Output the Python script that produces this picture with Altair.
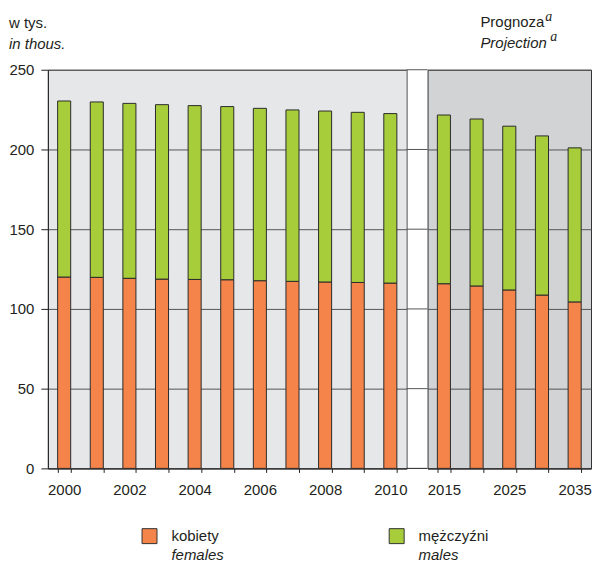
import altair as alt
import pandas as pd

FONT = "Liberation Sans"
TEXT = "#231f20"
ORANGE = "#f5844a"
GREEN = "#a7cd3a"

# historical data (thousands)
years_hist = ["2000", "2001", "2002", "2003", "2004", "2005", "2006", "2007", "2008", "2009", "2010"]
females_hist = [120.0, 119.8, 119.2, 118.7, 118.5, 118.3, 117.7, 117.3, 116.9, 116.6, 116.2]
males_hist = [110.4, 110.0, 109.7, 109.4, 109.0, 108.6, 108.1, 107.5, 107.2, 106.7, 106.3]

# projection
years_proj = ["2015", "2020", "2025", "2030", "2035"]
females_proj = [115.8, 114.4, 111.9, 108.7, 104.4]
males_proj = [105.8, 104.7, 102.7, 99.8, 96.6]

sex_keys = ["kobiety", "mężczyźni"]
sex_en = ["females", "males"]
grid_values = [0, 50, 100, 150, 200, 250]


def long_df(years, fem, mal):
    rows = []
    for y, f, m in zip(years, fem, mal):
        rows.append({"year": y, "sex": sex_keys[0], "value": f, "ord": 0})
        rows.append({"year": y, "sex": sex_keys[1], "value": m, "ord": 1})
    return pd.DataFrame(rows)


yscale = alt.Scale(domain=[0, 250], nice=False, zero=True)
color = alt.Color("sex:N", scale=alt.Scale(domain=sex_keys, range=[ORANGE, GREEN]), legend=None)


def xaxis(expr):
    return alt.Axis(title=None, labelExpr=expr, tickBand="extent", tickSize=4, labelPadding=10,
                    labelAngle=0, domainColor="#222", tickColor="#222", labelFont=FONT,
                    labelFontSize=15, labelColor=TEXT)


def bars(df, years, expr, show_y):
    if show_y:
        yaxis = alt.Axis(title=None, values=grid_values, grid=True, gridColor="#555", gridWidth=1,
                         tickSize=7, tickColor="#222", domainColor="#222", labelPadding=7,
                         labelFont=FONT, labelFontSize=15, labelColor=TEXT)
    else:
        yaxis = alt.Axis(title=None, values=grid_values, grid=True, gridColor="#555", gridWidth=1,
                         labels=False, ticks=False, domain=False)
    return alt.Chart(df).mark_bar(stroke="#2b2b2b", strokeWidth=1).encode(
        x=alt.X("year:N", sort=years, scale=alt.Scale(paddingInner=0.6, paddingOuter=0.3), axis=xaxis(expr)),
        y=alt.Y("value:Q", stack="zero", scale=yscale, axis=yaxis),
        color=color,
        order=alt.Order("ord:Q", sort="ascending"),
    )


title_style = dict(font=FONT, fontSize=15, fontWeight="normal", color=TEXT,
                   subtitleFont=FONT, subtitleFontSize=15, subtitleFontStyle="italic",
                   subtitleColor=TEXT, subtitlePadding=6)

# custom legend drawn below the left panel
leg_df = pd.DataFrame({"key": sex_keys, "en": sex_en})
lx = alt.X("key:N", scale=alt.Scale(type="point", domain=sex_keys, range=[102, 350], padding=0), axis=None)
squares = alt.Chart(leg_df).mark_square(size=225, opacity=1, stroke="#333", strokeWidth=1).encode(
    x=lx, y=alt.value(468),
    color=alt.Color("key:N", scale=alt.Scale(domain=sex_keys, range=[ORANGE, GREEN]), legend=None),
)
lab1 = alt.Chart(leg_df).mark_text(align="left", baseline="alphabetic", dx=22, font=FONT, fontSize=15,
                                   color=TEXT).encode(x=lx, y=alt.value(473), text="key:N")
lab2 = alt.Chart(leg_df).mark_text(align="left", baseline="alphabetic", dx=22, font=FONT, fontSize=15,
                                   fontStyle="italic", color=TEXT).encode(x=lx, y=alt.value(492), text="en:N")

left_bars = bars(long_df(years_hist, females_hist, males_hist), years_hist,
                 "toNumber(datum.label) % 2 == 0 ? datum.label : ''", True)
left = alt.layer(left_bars, squares, lab1, lab2).resolve_scale(x="independent").properties(
    width=360, height=400,
    view=alt.ViewBackground(fill="#e6e7e9", stroke="#555", strokeWidth=1),
    title=alt.TitleParams(text="w tys.", subtitle="in thous.", anchor="start", frame="bounds",
                          offset=11, **title_style),
)

# gap between the two periods: gridlines only, plus the superscripts of the projection heading
gap_rules = alt.Chart(pd.DataFrame({"g": grid_values})).mark_rule(strokeWidth=1).encode(
    y=alt.Y("g:Q", scale=yscale, axis=None),
    color=alt.condition("datum.g == 0", alt.value("#222"), alt.value("#555")),
)
sup_df = pd.DataFrame({"s": ["a", "a"], "line": [0, 1]})
sup1 = alt.Chart(sup_df).transform_filter("datum.line == 0").mark_text(
    font="Liberation Serif", fontStyle="italic", fontSize=14, align="left", baseline="alphabetic", color=TEXT
).encode(text="s:N", x=alt.value(139), y=alt.value(-49))
sup2 = alt.Chart(sup_df).transform_filter("datum.line == 1").mark_text(
    font="Liberation Serif", fontStyle="italic", fontSize=14, align="left", baseline="alphabetic", color=TEXT
).encode(text="s:N", x=alt.value(144), y=alt.value(-29))
gap = alt.layer(gap_rules, sup1, sup2).properties(
    width=21, height=400, view=alt.ViewBackground(stroke="transparent")
)

right_bars = bars(long_df(years_proj, females_proj, males_proj), years_proj,
                  "indexof(['2015','2025','2035'], datum.label) >= 0 ? datum.label : ''", False)
right = right_bars.properties(
    width=164, height=400,
    view=alt.ViewBackground(fill="#d2d3d5", stroke="#333", strokeWidth=1),
    title=alt.TitleParams(text="Prognoza", subtitle="Projection", anchor="start", frame="group", dx=53,
                          offset=19, **title_style),
)

chart = alt.hconcat(left, gap, right, spacing=0, bounds="flush").properties(
    padding={"left": 0, "top": 0, "right": 0, "bottom": 0}
).configure(font=FONT)

chart.save("out.html", embed_options={"renderer": "svg", "actions": False})
